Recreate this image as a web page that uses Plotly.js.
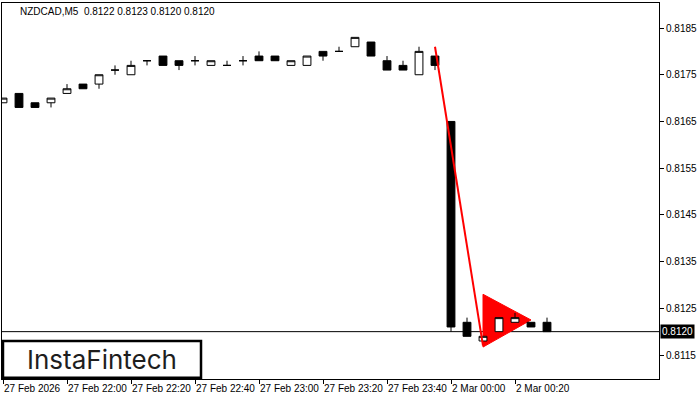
<!DOCTYPE html>
<html>
<head>
<meta charset="utf-8">
<script src="https://cdn.plot.ly/plotly-3.0.1.min.js"></script>
<style>
  html, body { margin: 0; padding: 0; background: #ffffff; }
  #chart { width: 700px; height: 400px; }
</style>
</head>
<body>
<div id="chart"></div>
<script>
// ---- data (NZDCAD, M5) ----
const barIndex = [0,1,2,3,4,5,6,7,8,9,10,11,12,13,14,15,16,17,18,19,20,21,22,23,24,25,26,27,28,29,30,31,32,33,34];
const opens  = [0.8169,0.8171,0.8169,0.8169,0.8171,0.8173,0.8173,0.8176,0.8175,0.8178,0.8179,0.8178,0.8178,0.8177,0.8177,0.8178,0.8179,0.8179,0.8177,0.8177,0.8180,0.8180,0.8181,0.8182,0.8178,0.8177,0.8175,0.8179,0.8165,0.8122,0.8118,0.8120,0.8122,0.8122,0.8122];
const highs  = [0.8170,0.8171,0.8169,0.8170,0.8173,0.8173,0.8175,0.8177,0.8178,0.8178,0.8179,0.8178,0.8179,0.8178,0.8178,0.8179,0.8180,0.8179,0.8178,0.8179,0.8180,0.8181,0.8183,0.8182,0.8179,0.8178,0.8181,0.8179,0.8165,0.8123,0.8119,0.8123,0.8124,0.8122,0.8123];
const lows   = [0.8169,0.8168,0.8168,0.8168,0.8171,0.8172,0.8172,0.8175,0.8175,0.8177,0.8177,0.8176,0.8177,0.8177,0.8177,0.8177,0.8178,0.8178,0.8177,0.8177,0.8178,0.8180,0.8181,0.8179,0.8176,0.8176,0.8175,0.8176,0.8120,0.8119,0.8118,0.8120,0.8122,0.8121,0.8120];
const closes = [0.8170,0.8168,0.8168,0.8170,0.8172,0.8172,0.8175,0.8176,0.8177,0.8178,0.8177,0.8177,0.8178,0.8178,0.8177,0.8178,0.8178,0.8178,0.8178,0.8179,0.8179,0.8180,0.8183,0.8179,0.8176,0.8176,0.8180,0.8177,0.8121,0.8119,0.8119,0.8123,0.8123,0.8121,0.8120];

const xTickIndex  = [0,4,8,12,16,20,24,28,32];
const xTickLabels = ["27 Feb 2026","27 Feb 22:00","27 Feb 22:20","27 Feb 22:40","27 Feb 23:00","27 Feb 23:20","27 Feb 23:40","2 Mar 00:00","2 Mar 00:20"];
const yTickValues = [0.8115,0.8125,0.8135,0.8145,0.8155,0.8165,0.8175,0.8185];
const yTickLabels = ["0.8115","0.8125","0.8135","0.8145","0.8155","0.8165","0.8175","0.8185"];

// bearish pennant pattern
const poleX = [27, 30];
const poleY = [0.8181, 0.8117];
const flagX = [30, 33, 30];
const flagY = [0.8128, 0.81225, 0.81167];

const currentPrice = 0.8120;
const headerText = "NZDCAD,M5  0.8122 0.8123 0.8120 0.8120";
const logoText = "InstaFintech";

const axisFont = {family: "Liberation Sans, Arial, sans-serif", size: 10, color: "#000000"};

// flag triangle path built from the pattern arrays (drawn below the candles)
const flagPath = "M " + flagX.map((x, i) => x + "," + flagY[i]).join(" L ") + " Z";

const traces = [
  {
    type: "candlestick",
    x: barIndex, open: opens, high: highs, low: lows, close: closes,
    increasing: {line: {color: "#000000", width: 1}, fillcolor: "#ffffff"},
    decreasing: {line: {color: "#000000", width: 1}, fillcolor: "#000000"},
    whiskerwidth: 0,
    hoverinfo: "skip", showlegend: false
  },
  {
    type: "scatter", mode: "lines",
    x: poleX, y: poleY,
    line: {color: "#ff0000", width: 2},
    hoverinfo: "skip", showlegend: false
  }
];

const layout = {
  width: 700, height: 400,
  margin: {l: 2, r: 41, t: 3, b: 21, pad: 0},
  paper_bgcolor: "#ffffff", plot_bgcolor: "#ffffff",
  showlegend: false,
  hovermode: false,
  boxgap: 0.3,
  font: axisFont,
  xaxis: {
    type: "linear",
    range: [-0.0625, 41.0],
    rangeslider: {visible: false},
    showgrid: false, zeroline: false,
    showline: true, linecolor: "#000000", linewidth: 1, mirror: true,
    ticks: "outside", ticklen: 4, tickcolor: "#000000", tickwidth: 1,
    tickmode: "array", tickvals: xTickIndex, ticktext: xTickLabels,
    ticklabelposition: "outside right",
    tickangle: 0,
    tickfont: axisFont,
    fixedrange: true
  },
  yaxis: {
    side: "right",
    range: [0.8109862, 0.8190359],
    showgrid: false, zeroline: false,
    showline: true, linecolor: "#000000", linewidth: 1, mirror: true,
    ticks: "outside", ticklen: 4, tickcolor: "#000000", tickwidth: 1,
    tickmode: "array", tickvals: yTickValues, ticktext: yTickLabels,
    tickfont: axisFont,
    fixedrange: true
  },
  shapes: [
    {type: "path", xref: "x", yref: "y", path: flagPath,
     fillcolor: "#ff0000", line: {color: "#ff0000", width: 1}, layer: "below"},
    {type: "line", xref: "paper", yref: "y", x0: 0, x1: 1, y0: currentPrice, y1: currentPrice,
     line: {color: "#000000", width: 1}, layer: "below"},
    {type: "rect", xref: "paper", yref: "paper", x0: 0.0015, x1: 0.3029, y0: 0.003, y1: 0.101,
     fillcolor: "#ffffff", line: {color: "#000000", width: 2.5}, layer: "above"}
  ],
  annotations: [
    {xref: "paper", yref: "paper", x: 0.0245, y: 0.9785, xanchor: "left", yanchor: "middle",
     text: headerText, showarrow: false,
     font: {family: "Liberation Sans, Arial, sans-serif", size: 10, color: "#000000"}},
    {xref: "paper", yref: "y", x: 1.0015, y: currentPrice, xanchor: "left", yanchor: "middle",
     text: currentPrice.toFixed(4), showarrow: false, bgcolor: "#000000",
     borderpad: 1, font: {family: "Liberation Sans, Arial, sans-serif", size: 10, color: "#ffffff"}},
    {xref: "paper", yref: "paper", x: 0.1515, y: 0.053, xanchor: "center", yanchor: "middle",
     text: logoText, showarrow: false,
     font: {family: "Inter, Lato, sans-serif", size: 26, color: "#1e1e1e", weight: 400}}
  ]
};

Plotly.newPlot("chart", traces, layout, {staticPlot: true, displayModeBar: false});
</script>
</body>
</html>
